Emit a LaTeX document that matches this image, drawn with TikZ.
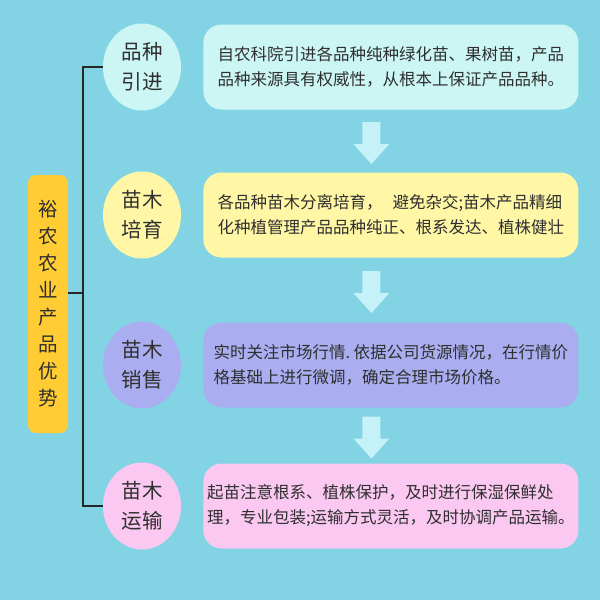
\documentclass[tikz,border=0pt]{standalone}
\usepackage{fontspec}
\setmainfont{Noto Sans CJK SC}
\usetikzlibrary{shapes.geometric,positioning,calc}

\definecolor{bgblue}{HTML}{82D4E4}
\definecolor{gold}{HTML}{FFCC33}
\definecolor{ink}{HTML}{2F2F2F}
\definecolor{mint}{HTML}{CCF6F4}
\definecolor{cream}{HTML}{FFF7A6}
\definecolor{lavender}{HTML}{AAAEF0}
\definecolor{blush}{HTML}{FAC8F0}
\definecolor{arrowcyan}{HTML}{C5F2F8}

\begin{document}
\begin{tikzpicture}[
    x=1pt, y=-1pt,
    node distance=22pt,
    stage/.style={ellipse, fill=#1, minimum width=78pt, minimum height=87pt,
                  inner sep=0pt, align=center, text=ink,
                  font=\fontsize{20.5}{30}\selectfont},
    card/.style={rectangle, rounded corners=18pt, fill=#1, minimum width=375pt,
                 minimum height=85pt, align=left, text=ink,
                 font=\fontsize{16.5}{25}\selectfont},
    title/.style={rectangle, rounded corners=8pt, fill=gold, minimum width=40pt,
                  minimum height=258pt, inner sep=0pt, align=center, text=ink,
                  font=\fontsize{19.5}{27}\selectfont},
    bracket/.style={draw=black!85, line width=2.5pt},
    flow/.style={fill=arrowcyan}
]
\fill[bgblue] (0,0) rectangle (600,600);

\node[title] (title) at (48,304) {裕\\农\\农\\业\\产\\品\\优\\势};

\node[stage=mint] (intro) at (142,67) {品种\\引进};
\node[stage=cream] (breed) at (142,215) {苗木\\培育};
\node[stage=lavender] (sale) at (142,365) {苗木\\销售};
\node[stage=blush] (ship) at (142,506) {苗木\\运输};

\node[card=mint, right=of intro] (introcard)
  {自农科院引进各品种纯种绿化苗、果树苗，产品\\品种来源具有权威性，从根本上保证产品品种。};
\node[card=cream, right=of breed] (breedcard)
  {各品种苗木分离培育，\hspace{0.6em}避免杂交;苗木产品精细\\化种植管理产品品种纯正、根系发达、植株健壮};
\node[card=lavender, right=of sale] (salecard)
  {实时关注市场行情.\hspace{0.2em}依据公司货源情况，在行情价\\格基础上进行微调，确定合理市场价格。};
\node[card=blush, right=of ship] (shipcard)
  {起苗注意根系、植株保护，及时进行保湿保鲜处\\理，专业包装;运输方式灵活，及时协调产品运输。};

% bracket from the title to the four stages
\coordinate (spine) at (83,0);
\draw[bracket] (intro.west) -| (spine |- ship.west) -- (ship.west);
\draw[bracket] ([yshift=11pt]title.east) -- ([yshift=11pt]title.east -| spine);

% down arrows between the cards
\foreach \a/\b in {introcard/breedcard, breedcard/salecard, salecard/shipcard}{
  \path ($(\a.south)!0.5!(\b.north)+(-19.5,2)$) coordinate (m);
  \fill[flow] ($(m)+(-9,-21)$) -- ++(18,0) -- ++(0,22) -- ++(9,0)
    -- ++(-18,20) -- ++(-18,-20) -- ++(9,0) -- cycle;
}
\end{tikzpicture}
\end{document}
